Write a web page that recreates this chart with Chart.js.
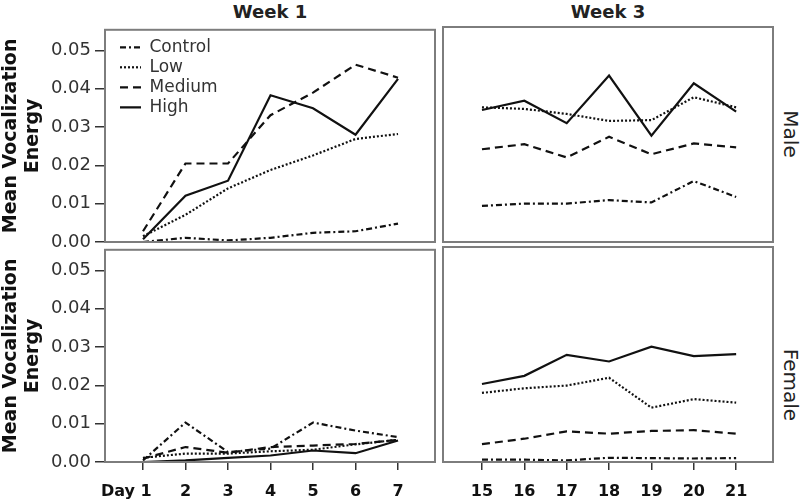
<!DOCTYPE html>
<html>
<head>
<meta charset="utf-8">
<script src="https://cdn.jsdelivr.net/npm/chart.js@4.4.0/dist/chart.umd.min.js"></script>
<style>
  body { margin: 0; background: #fff; }
  #wrap { position: relative; width: 800px; height: 502px; overflow: hidden; font-family: "DejaVu Sans", sans-serif; color: #222; }
  canvas { position: absolute; }
  .week { position: absolute; top: 1px; width: 200px; text-align: center; font-weight: bold; font-size: 18px; }
  .side { position: absolute; width: 120px; text-align: center; font-size: 20px; transform: rotate(90deg); }
</style>
</head>
<body>
<div id="wrap">
  <div class="week" style="left:170px">Week 1</div>
  <div class="week" style="left:508px">Week 3</div>
  <div class="side" style="left:731px; top:122px">Male</div>
  <div class="side" style="left:731px; top:373px">Female</div>
  <canvas id="maleW1" width="440" height="245" style="left:0; top:15px"></canvas>
  <canvas id="maleW3" width="360" height="245" style="left:440px; top:15px"></canvas>
  <canvas id="femaleW1" width="440" height="267" style="left:0; top:235px"></canvas>
  <canvas id="femaleW3" width="360" height="267" style="left:440px; top:235px"></canvas>
</div>
<script>
// days
var days1 = [1, 2, 3, 4, 5, 6, 7];
var days3 = [15, 16, 17, 18, 19, 20, 21];
var yTicks = [0, 0.01, 0.02, 0.03, 0.04, 0.05];

// male, week 1
var maleW1Control = [0.0000, 0.0011, 0.0004, 0.0011, 0.0024, 0.0028, 0.0048];
var maleW1Low     = [0.0015, 0.0071, 0.0140, 0.0188, 0.0226, 0.0269, 0.0282];
var maleW1Medium  = [0.0028, 0.0205, 0.0205, 0.0331, 0.0390, 0.0463, 0.0429];
var maleW1High    = [0.0007, 0.0121, 0.0160, 0.0383, 0.0349, 0.0280, 0.0426];

// male, week 3
var maleW3Control = [0.0093, 0.0099, 0.0099, 0.0108, 0.0102, 0.0157, 0.0116];
var maleW3Low     = [0.0347, 0.0343, 0.0330, 0.0312, 0.0314, 0.0373, 0.0347];
var maleW3Medium  = [0.0239, 0.0252, 0.0218, 0.0271, 0.0226, 0.0254, 0.0244];
var maleW3High    = [0.0340, 0.0364, 0.0306, 0.0429, 0.0274, 0.0409, 0.0336];

// female, week 1
var femaleW1Control = [0.0004, 0.0103, 0.0026, 0.0035, 0.0103, 0.0082, 0.0065];
var femaleW1Low     = [0.0011, 0.0022, 0.0022, 0.0028, 0.0032, 0.0046, 0.0058];
var femaleW1Medium  = [0.0009, 0.0039, 0.0024, 0.0039, 0.0043, 0.0047, 0.0058];
var femaleW1High    = [0.0000, 0.0004, 0.0011, 0.0017, 0.0030, 0.0023, 0.0056];

// female, week 3
var femaleW3Control = [0.0006, 0.0006, 0.0004, 0.0011, 0.0010, 0.0009, 0.0010];
var femaleW3Low     = [0.0178, 0.0190, 0.0197, 0.0217, 0.0140, 0.0162, 0.0153];
var femaleW3Medium  = [0.0046, 0.0060, 0.0079, 0.0073, 0.0080, 0.0082, 0.0073];
var femaleW3High    = [0.0201, 0.0222, 0.0276, 0.0259, 0.0297, 0.0273, 0.0278];

var groups = ['Control', 'Low', 'Medium', 'High'];
var dashes = [[6, 3, 2, 3], [2, 2], [8, 5], []];

function makeSets(days, series) {
    return series.map(function(vals, i) {
        return {
            label: groups[i],
            data: vals.map(function(v, j) { return {x: days[j], y: v}; }),
            borderColor: '#111',
            backgroundColor: '#111',
            borderWidth: 2.2,
            borderDash: dashes[i],
            pointRadius: 0,
            tension: 0
        };
    });
}

// grey frame round each panel
var framePlugin = {
    id: 'frame',
    afterDraw: function(chart) {
        var a = chart.chartArea, ctx = chart.ctx;
        ctx.save();
        ctx.strokeStyle = '#7d7d7d';
        ctx.lineWidth = 2;
        ctx.setLineDash([]);
        ctx.strokeRect(a.left, a.top, a.right - a.left, a.bottom - a.top);
        ctx.restore();
    }
};

// move legend a bit into the panel
var legendShift = {
    id: 'legendShift',
    beforeDraw: function(chart) {
        if (chart.legend && chart.options.plugins.legend.display) {
            chart.legend.left = chart.chartArea.left + 12;
            chart.legend.top = chart.chartArea.top + 6;
        }
    }
};

function panel(id, days, series, opt) {
    var xMin = opt.week1 ? 0.106 : 14.08;
    var xMax = opt.week1 ? 7.87 : 21.87;
    var config = {
        type: 'line',
        data: { datasets: makeSets(days, series) },
        options: {
            responsive: false,
            animation: false,
            layout: { padding: opt.padding },
            plugins: {
                tooltip: { enabled: false },
                legend: {
                    display: !!opt.legend,
                    position: 'chartArea',
                    align: 'start',
                    labels: {
                        usePointStyle: true,
                        pointStyle: 'line',
                        pointStyleWidth: 21,
                        boxWidth: 21,
                        padding: 3,
                        color: '#333',
                        font: { family: 'DejaVu Sans', size: 17 },
                        generateLabels: function(chart) {
                            var items = Chart.defaults.plugins.legend.labels.generateLabels(chart);
                            items.forEach(function(it) {
                                var ds = chart.data.datasets[it.datasetIndex];
                                it.lineDash = ds.borderDash;
                                it.lineWidth = ds.borderWidth;
                                it.strokeStyle = ds.borderColor;
                            });
                            return items;
                        }
                    }
                }
            },
            scales: {
                x: {
                    type: 'linear',
                    min: xMin,
                    max: xMax,
                    display: !!opt.bottom,
                    afterBuildTicks: function(s) {
                        s.ticks = days.map(function(d) { return {value: d}; });
                    },
                    afterFit: function(s) { if (opt.bottom) s.height = 40; },
                    border: { display: false },
                    grid: { drawOnChartArea: false, drawTicks: true, tickLength: 8, tickColor: '#333', lineWidth: 1.5 },
                    ticks: {
                        padding: 12,
                        maxRotation: 0,
                        autoSkip: false,
                        color: '#111',
                        font: { family: 'DejaVu Sans', size: 16, weight: 'bold' },
                        callback: function(v) { return v == 1 ? 'Day 1      ' : String(v); }
                    }
                },
                y: {
                    min: 0,
                    max: 0.0554,
                    display: !!opt.week1,
                    afterBuildTicks: function(s) {
                        s.ticks = yTicks.map(function(v) { return {value: v}; });
                    },
                    afterFit: function(s) { if (opt.week1) s.width = 105; },
                    border: { display: false },
                    grid: { drawOnChartArea: false, drawTicks: true, tickLength: 10, tickColor: '#333', lineWidth: 1.5 },
                    title: {
                        display: true,
                        text: ['Mean Vocalization', 'Energy'],
                        color: '#111',
                        padding: 0,
                        font: { family: 'DejaVu Sans', size: 19, weight: 'bold', lineHeight: 1.15 }
                    },
                    ticks: {
                        padding: 4,
                        color: '#333',
                        font: { family: 'DejaVu Sans', size: 18 },
                        callback: function(v) { return v.toFixed(2); }
                    }
                }
            }
        },
        plugins: [framePlugin, legendShift]
    };
    return new Chart(document.getElementById(id), config);
}

panel('maleW1', days1, [maleW1Control, maleW1Low, maleW1Medium, maleW1High],
    { week1: true, legend: true, padding: {top: 12, bottom: 18, left: 0, right: 5} });
panel('maleW3', days3, [maleW3Control, maleW3Low, maleW3Medium, maleW3High],
    { padding: {top: 12, bottom: 18, left: 3, right: 27} });
panel('femaleW1', days1, [femaleW1Control, femaleW1Low, femaleW1Medium, femaleW1High],
    { week1: true, bottom: true, padding: {top: 12, bottom: 0, left: 0, right: 5} });
panel('femaleW3', days3, [femaleW3Control, femaleW3Low, femaleW3Medium, femaleW3High],
    { bottom: true, padding: {top: 12, bottom: 0, left: 3, right: 27} });
</script>
</body>
</html>
